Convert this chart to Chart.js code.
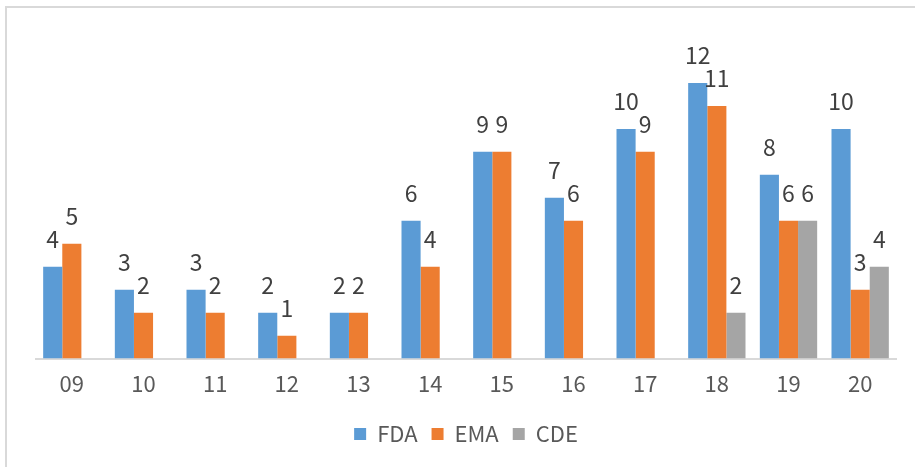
<!DOCTYPE html>
<html>
<head>
<meta charset="utf-8">
<script src="https://cdn.jsdelivr.net/npm/chart.js@4/dist/chart.umd.min.js"></script>
<style>
    html, body { margin: 0; padding: 0; background: #fff; overflow: hidden; }
    #frame {
        position: absolute;
        left: 5px;
        top: 6px;
        width: 1000px;
        height: 600px;
        border-left: 2px solid #d9d9d9;
        border-top: 2px solid #d9d9d9;
    }
    #wrap { position: absolute; left: 0; top: 0; width: 915px; height: 467px; }
</style>
</head>
<body>
<div id="frame"></div>
<div id="wrap"><canvas id="barChart"></canvas></div>
<script>
// ===== DATA =====
const years = ['09', '10', '11', '12', '13', '14', '15', '16', '17', '18', '19', '20'];
const fdaCounts = [4, 3, 3, 2, 2, 6, 9, 7, 10, 12, 8, 10];
const emaCounts = [5, 2, 2, 1, 2, 4, 9, 6, 9, 11, 6, 3];
const cdeCounts = [null, null, null, null, null, null, null, null, null, 2, 6, 4];

const labelFont = '"Noto Sans CJK SC", "Noto Sans", sans-serif';

// Value labels above each bar
const valueLabels = {
    id: 'valueLabels',
    afterDatasetsDraw(chart) {
        const ctx = chart.ctx;
        ctx.save();
        ctx.font = '400 23px ' + labelFont;
        ctx.fillStyle = '#404040';
        ctx.textAlign = 'center';
        ctx.textBaseline = 'alphabetic';
        chart.data.datasets.forEach((ds, i) => {
            const meta = chart.getDatasetMeta(i);
            meta.data.forEach((bar, j) => {
                const v = ds.data[j];
                if (v === null || v === undefined) return;
                ctx.fillText(String(v), bar.x, bar.y - 19);
            });
        });
        ctx.restore();
    }
};

new Chart(document.getElementById('barChart'), {
    type: 'bar',
    data: {
        labels: years,
        datasets: [
            { label: 'FDA', data: fdaCounts, backgroundColor: '#5B9BD5' },
            { label: 'EMA', data: emaCounts, backgroundColor: '#ED7D31' },
            { label: 'CDE', data: cdeCounts, backgroundColor: '#A5A5A5' }
        ]
    },
    options: {
        responsive: true,
        maintainAspectRatio: false,
        animation: false,
        layout: { padding: { top: 37, left: 36, right: 19, bottom: 12 } },
        datasets: {
            bar: { barPercentage: 1, categoryPercentage: 0.8 }
        },
        plugins: {
            tooltip: { enabled: false },
            legend: {
                position: 'bottom',
                labels: {
                    font: { size: 22, family: labelFont, weight: '400' },
                    color: '#595959',
                    boxWidth: 12,
                    boxHeight: 12,
                    padding: 14
                }
            }
        },
        scales: {
            y: {
                display: false,
                min: 0,
                max: 14
            },
            x: {
                grid: { display: false, drawTicks: false },
                border: { display: true, color: '#d9d9d9', width: 2 },
                ticks: {
                    color: '#595959',
                    padding: 12,
                    font: { size: 22, family: labelFont, weight: '400' }
                }
            }
        }
    },
    plugins: [valueLabels]
});
</script>
</body>
</html>
